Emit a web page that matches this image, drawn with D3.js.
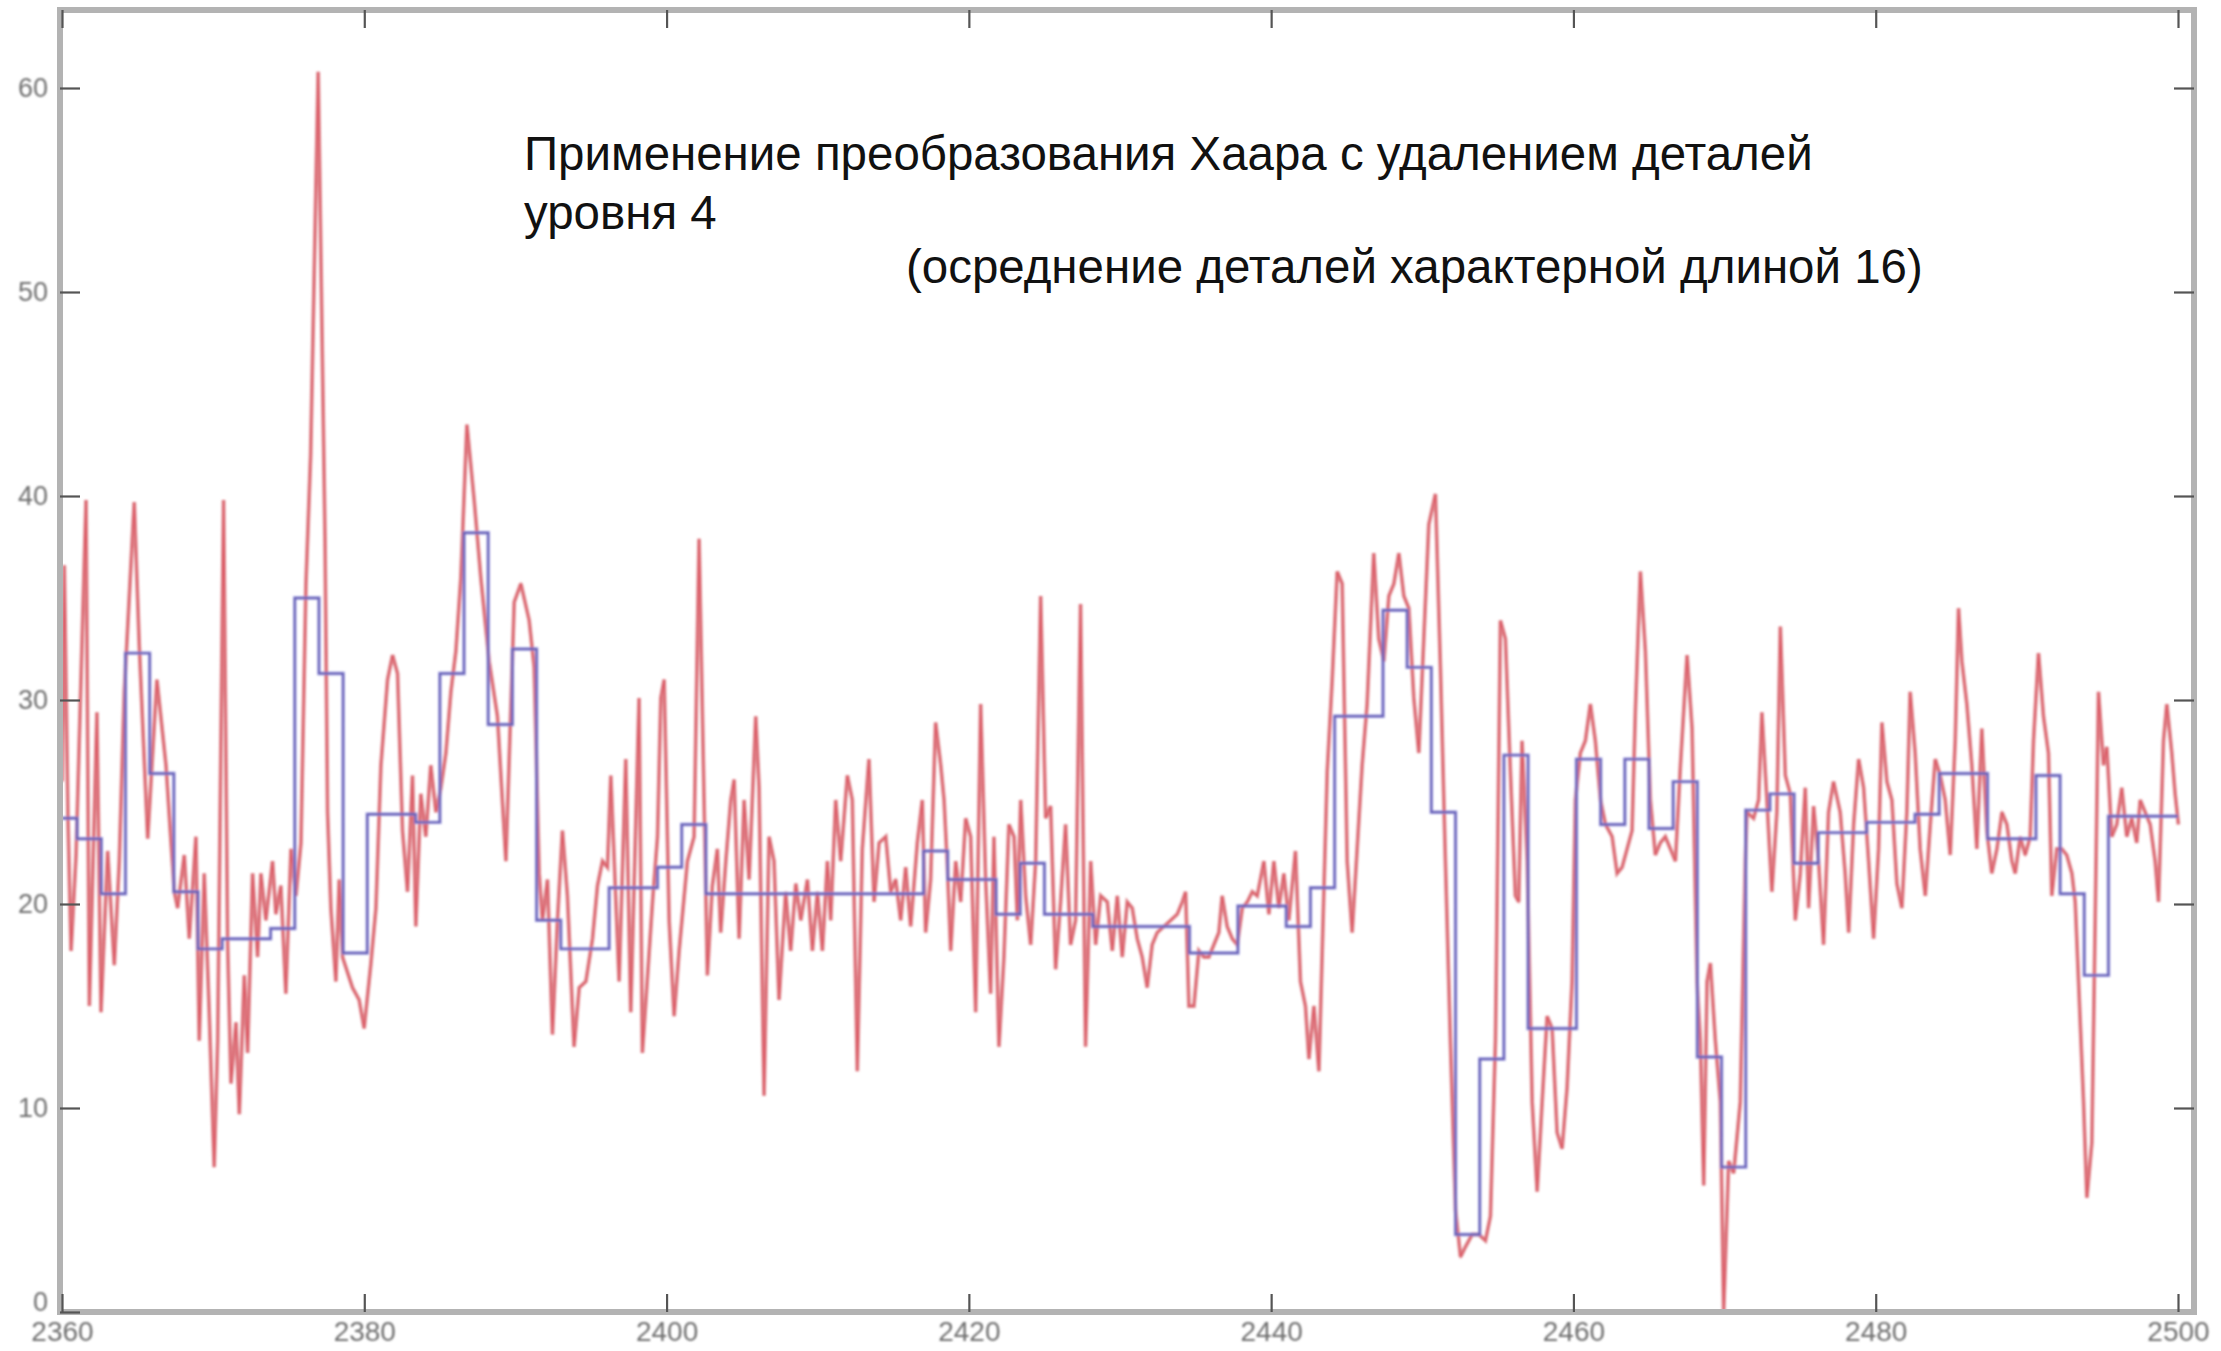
<!DOCTYPE html>
<html>
<head>
<meta charset="utf-8">
<script src="https://cdn.jsdelivr.net/npm/d3@7/dist/d3.min.js"></script>
<style>
  html, body { margin: 0; padding: 0; background: #ffffff; }
  svg { display: block; }
</style>
</head>
<body>
<svg id="chart" width="2221" height="1351"></svg>
<script>
// ---- text ----
const titleLines = [
  "Применение преобразования Хаара с удалением деталей",
  "уровня 4",
  "(осреднение деталей характерной длиной 16)"
];

// ---- axes ----
const xTicks = [2360, 2380, 2400, 2420, 2440, 2460, 2480, 2500];
const yTicks = [0, 10, 20, 30, 40, 50, 60];

// ---- raw signal (turning points: time, value) ----
const fluxT = [
  2360.00, 2360.15, 2360.40, 2360.60, 2360.93, 2361.59, 2361.81, 2362.31, 2362.58, 2363.02,
  2363.46, 2363.79, 2364.12, 2364.78, 2365.11, 2365.67, 2366.28, 2366.88, 2367.43, 2367.65,
  2368.09, 2368.42, 2368.86, 2369.08, 2369.41, 2369.74, 2370.07, 2370.30, 2370.69, 2370.96,
  2371.18, 2371.51, 2371.73, 2372.06, 2372.28, 2372.61, 2372.94, 2373.16, 2373.49, 2373.93,
  2374.15, 2374.48, 2374.81, 2375.15, 2375.48, 2375.81, 2376.14, 2376.45, 2376.95, 2377.40,
  2377.57, 2377.79, 2378.12, 2378.34, 2378.56, 2379.22, 2379.66, 2379.99, 2380.44, 2380.77,
  2381.10, 2381.54, 2381.87, 2382.20, 2382.53, 2382.86, 2383.19, 2383.41, 2383.74, 2384.07,
  2384.40, 2384.74, 2385.07, 2385.40, 2385.73, 2386.06, 2386.39, 2386.79, 2387.27, 2387.71,
  2388.26, 2388.81, 2389.37, 2389.92, 2390.36, 2390.91, 2391.24, 2391.57, 2391.79, 2392.12,
  2392.45, 2392.78, 2393.11, 2393.44, 2393.88, 2394.22, 2394.66, 2395.10, 2395.43, 2395.76,
  2396.09, 2396.31, 2396.86, 2397.30, 2397.63, 2398.18, 2398.40, 2399.07, 2399.40, 2399.62,
  2399.84, 2400.17, 2400.50, 2400.83, 2401.38, 2401.82, 2402.15, 2402.48, 2402.70, 2403.03,
  2403.36, 2403.58, 2403.92, 2404.25, 2404.47, 2404.80, 2405.13, 2405.46, 2405.90, 2406.12,
  2406.45, 2406.78, 2407.11, 2407.44, 2407.88, 2408.21, 2408.55, 2408.88, 2409.32, 2409.65,
  2409.98, 2410.31, 2410.64, 2410.86, 2411.19, 2411.52, 2411.96, 2412.29, 2412.62, 2412.95,
  2413.39, 2413.73, 2414.06, 2414.50, 2414.83, 2415.16, 2415.49, 2415.82, 2416.15, 2416.59,
  2416.92, 2417.14, 2417.47, 2417.80, 2418.14, 2418.36, 2418.58, 2418.80, 2419.13, 2419.46,
  2419.79, 2420.12, 2420.45, 2420.78, 2421.11, 2421.44, 2421.66, 2421.99, 2422.32, 2422.65,
  2422.99, 2423.21, 2423.43, 2423.76, 2424.09, 2424.42, 2424.75, 2425.08, 2425.41, 2425.74,
  2426.07, 2426.40, 2426.73, 2427.06, 2427.39, 2427.72, 2428.06, 2428.39, 2428.72, 2429.16,
  2429.49, 2429.82, 2430.15, 2430.48, 2430.81, 2431.14, 2431.47, 2431.80, 2432.13, 2432.46,
  2432.91, 2433.35, 2433.79, 2434.12, 2434.34, 2434.56, 2434.89, 2435.22, 2435.55, 2435.88,
  2436.21, 2436.54, 2436.76, 2437.09, 2437.43, 2437.76, 2438.09, 2438.42, 2438.75, 2439.08,
  2439.52, 2439.85, 2440.18, 2440.51, 2440.84, 2441.17, 2441.61, 2441.94, 2442.27, 2442.50,
  2442.83, 2443.16, 2443.38, 2443.71, 2444.04, 2444.37, 2444.70, 2445.03, 2445.36, 2445.69,
  2446.02, 2446.35, 2446.79, 2447.12, 2447.46, 2447.79, 2448.12, 2448.45, 2448.78, 2449.11,
  2449.44, 2449.77, 2450.10, 2450.43, 2450.87, 2451.20, 2451.53, 2451.86, 2452.20, 2452.53,
  2452.86, 2453.30, 2453.74, 2454.18, 2454.51, 2454.84, 2455.17, 2455.50, 2455.83, 2456.16,
  2456.38, 2456.60, 2456.94, 2457.27, 2457.60, 2457.93, 2458.26, 2458.59, 2458.92, 2459.25,
  2459.58, 2459.91, 2460.13, 2460.46, 2460.79, 2461.12, 2461.45, 2461.79, 2462.12, 2462.56,
  2462.89, 2463.22, 2463.55, 2463.88, 2464.10, 2464.43, 2464.76, 2465.09, 2465.42, 2465.75,
  2466.08, 2466.42, 2466.75, 2467.08, 2467.52, 2467.85, 2468.18, 2468.40, 2468.62, 2468.84,
  2469.06, 2469.39, 2469.72, 2469.94, 2470.27, 2470.60, 2471.04, 2471.37, 2471.48, 2471.92,
  2472.25, 2472.47, 2472.80, 2473.13, 2473.46, 2473.69, 2474.02, 2474.35, 2474.68, 2475.01,
  2475.34, 2475.56, 2475.89, 2476.22, 2476.55, 2476.88, 2477.21, 2477.65, 2477.98, 2478.21,
  2478.54, 2478.87, 2479.20, 2479.53, 2479.86, 2480.19, 2480.41, 2480.74, 2481.07, 2481.40,
  2481.73, 2482.06, 2482.28, 2482.61, 2482.94, 2483.28, 2483.61, 2483.94, 2484.27, 2484.60,
  2484.93, 2485.26, 2485.48, 2485.70, 2486.03, 2486.36, 2486.69, 2487.02, 2487.35, 2487.68,
  2488.02, 2488.35, 2488.68, 2489.01, 2489.23, 2489.56, 2489.89, 2490.22, 2490.44, 2490.77,
  2491.10, 2491.43, 2491.65, 2491.98, 2492.31, 2492.64, 2492.98, 2493.20, 2493.42, 2493.75,
  2493.97, 2494.30, 2494.52, 2494.74, 2495.07, 2495.29, 2495.62, 2495.95, 2496.28, 2496.61,
  2496.94, 2497.27, 2497.50, 2497.83, 2498.16, 2498.49, 2498.71, 2499.04, 2499.26, 2499.59,
  2499.81, 2500.03
];
const fluxV = [
  26.0, 36.6, 24.0, 17.7, 22.4, 39.8, 15.0, 29.4, 14.7, 22.6,
  17.0, 22.1, 30.4, 39.7, 32.7, 23.2, 31.0, 26.8, 20.6, 19.8,
  22.4, 18.3, 23.3, 13.3, 21.5, 14.7, 7.1, 13.3, 39.8, 18.0,
  11.2, 14.2, 9.7, 16.5, 12.7, 21.5, 17.4, 21.5, 19.2, 22.1,
  19.5, 20.9, 15.6, 22.7, 20.4, 23.0, 35.7, 42.0, 60.8, 38.0,
  24.5, 19.8, 16.2, 21.2, 17.4, 15.9, 15.3, 13.9, 17.1, 19.8,
  26.8, 31.0, 32.2, 31.3, 23.6, 20.6, 26.3, 18.9, 25.4, 23.3,
  26.8, 24.5, 25.7, 27.4, 30.4, 32.4, 36.0, 43.5, 39.8, 36.0,
  31.9, 29.2, 22.1, 34.8, 35.7, 33.9, 31.6, 21.5, 19.2, 21.2,
  13.6, 19.2, 23.6, 20.4, 13.0, 15.9, 16.2, 18.3, 20.9, 22.1,
  21.8, 26.3, 16.2, 27.1, 14.7, 30.1, 12.7, 20.1, 23.3, 30.1,
  31.0, 19.2, 14.5, 17.7, 22.1, 23.3, 37.9, 25.1, 16.5, 20.9,
  22.7, 18.6, 22.1, 25.1, 26.1, 18.3, 25.1, 21.2, 29.2, 25.7,
  10.6, 23.3, 22.1, 15.3, 20.6, 17.7, 21.0, 19.2, 21.2, 17.7,
  20.6, 17.7, 22.1, 19.2, 25.1, 22.1, 26.3, 25.1, 11.8, 22.7,
  27.1, 20.1, 23.0, 23.3, 20.6, 21.2, 19.2, 21.8, 18.9, 23.0,
  25.1, 18.6, 21.2, 28.9, 26.8, 25.1, 21.8, 17.7, 22.1, 20.1,
  24.2, 23.3, 14.7, 29.8, 21.2, 15.6, 23.3, 13.0, 17.4, 23.9,
  23.3, 19.2, 25.1, 20.4, 18.0, 22.1, 35.1, 24.2, 24.8, 16.8,
  20.1, 23.9, 18.0, 19.2, 34.7, 13.0, 22.1, 18.0, 20.4, 20.1,
  17.7, 20.4, 17.4, 20.1, 19.8, 18.3, 17.4, 15.9, 18.0, 18.6,
  18.9, 19.2, 19.5, 20.1, 20.6, 15.0, 15.0, 17.7, 17.4, 17.4,
  18.0, 18.6, 20.4, 18.9, 18.3, 18.0, 19.8, 20.1, 20.6, 20.4,
  22.1, 19.5, 22.1, 19.8, 21.5, 19.2, 22.6, 16.2, 15.0, 12.4,
  15.0, 11.8, 17.7, 26.5, 31.0, 36.3, 35.7, 22.1, 18.6, 22.7,
  26.8, 29.8, 37.2, 33.0, 31.9, 35.1, 35.7, 37.2, 35.1, 34.5,
  30.1, 27.4, 33.0, 38.6, 40.1, 31.6, 22.1, 13.3, 5.0, 2.7,
  3.2, 3.8, 3.8, 3.5, 4.7, 13.3, 33.9, 33.0, 26.5, 20.4,
  20.1, 28.0, 22.1, 10.3, 5.9, 10.3, 14.5, 13.9, 8.8, 8.0,
  11.0, 16.2, 25.1, 27.4, 28.0, 29.8, 28.0, 25.1, 23.9, 23.3,
  21.5, 21.8, 22.7, 23.6, 29.5, 36.3, 32.4, 25.1, 22.4, 23.0,
  23.3, 22.7, 22.1, 26.8, 32.2, 28.6, 16.2, 13.3, 6.2, 16.2,
  17.1, 13.3, 10.3, 0.0, 7.4, 6.8, 10.3, 22.1, 24.5, 24.2,
  25.1, 29.4, 25.1, 20.6, 24.5, 33.6, 26.3, 25.4, 19.2, 21.5,
  25.7, 19.8, 24.8, 22.1, 18.0, 24.5, 26.0, 24.5, 21.5, 18.6,
  23.9, 27.1, 25.7, 22.1, 18.3, 22.7, 28.9, 26.0, 25.1, 21.0,
  19.8, 24.5, 30.4, 27.4, 22.7, 20.4, 23.9, 27.1, 26.3, 25.1,
  22.4, 28.0, 34.5, 31.9, 29.8, 26.8, 22.7, 28.6, 23.6, 21.5,
  22.7, 24.5, 23.9, 22.1, 21.5, 23.3, 22.4, 23.3, 28.0, 32.3,
  29.2, 27.4, 20.4, 22.7, 22.7, 22.4, 21.5, 20.1, 16.2, 10.3,
  5.6, 8.3, 19.2, 30.4, 26.8, 27.7, 23.3, 23.9, 25.7, 23.3,
  24.2, 23.0, 25.1, 24.5, 23.9, 22.1, 20.1, 28.0, 29.8, 27.4,
  25.4, 23.9
];

// ---- level-4 Haar approximation: left edge of each 16-sample block and its mean ----
const blockStart = [
  2360.0, 2361.0, 2362.6, 2364.2, 2365.8, 2367.4, 2369.0, 2370.6, 2372.2, 2373.8,
  2375.4, 2377.0, 2378.6, 2380.2, 2381.8, 2383.4, 2385.0, 2386.6, 2388.2, 2389.8,
  2391.4, 2393.0, 2394.6, 2396.2, 2397.8, 2399.4, 2401.0, 2402.6, 2404.2, 2405.8,
  2407.4, 2409.0, 2410.6, 2412.2, 2413.8, 2415.4, 2417.0, 2418.6, 2420.2, 2421.8,
  2423.4, 2425.0, 2426.6, 2428.2, 2429.8, 2431.4, 2433.0, 2434.6, 2436.2, 2437.8,
  2439.4, 2441.0, 2442.6, 2444.2, 2445.8, 2447.4, 2449.0, 2450.6, 2452.2, 2453.8,
  2455.4, 2457.0, 2458.6, 2460.2, 2461.8, 2463.4, 2465.0, 2466.6, 2468.2, 2469.8,
  2471.4, 2473.0, 2474.6, 2476.2, 2477.8, 2479.4, 2481.0, 2482.6, 2484.2, 2485.8,
  2487.4, 2489.0, 2490.6, 2492.2, 2493.8, 2495.4, 2497.0, 2498.6
];
const blockMean = [
  24.2, 23.2, 20.5, 32.3, 26.4, 20.6, 17.8, 18.3, 18.3, 18.8,
  35.0, 31.3, 17.6, 24.4, 24.4, 24.0, 31.3, 38.2, 28.8, 32.5,
  19.2, 17.8, 17.8, 20.8, 20.8, 21.8, 23.9, 20.5, 20.5, 20.5,
  20.5, 20.5, 20.5, 20.5, 20.5, 20.5, 22.6, 21.2, 21.2, 19.5,
  22.0, 19.5, 19.5, 18.9, 18.9, 18.9, 18.9, 17.6, 17.6, 19.9,
  19.9, 18.9, 20.8, 29.2, 29.2, 34.4, 31.6, 24.5, 3.8, 12.4,
  27.3, 13.9, 13.9, 27.1, 23.9, 27.1, 23.7, 26.0, 12.5, 7.1,
  24.6, 25.4, 22.0, 23.5, 23.5, 24.0, 24.0, 24.4, 26.4, 26.4,
  23.2, 23.2, 26.3, 20.5, 16.5, 24.3, 24.3, 24.3
];
const blockEnd = 2500.0;

// ---- layout ----
const frame = { left: 60, right: 2194, top: 10, bottom: 1312 };

const svg = d3.select("#chart");

const defs = svg.append("defs");
defs.append("filter").attr("id", "soft")
  .attr("x", "-5%").attr("y", "-5%").attr("width", "110%").attr("height", "110%")
  .append("feGaussianBlur").attr("stdDeviation", 0.8);
defs.append("filter").attr("id", "softText")
  .append("feGaussianBlur").attr("stdDeviation", 0.8);

const x = d3.scaleLinear().domain([2360, 2500]).range([62, 2178]);
const y = d3.scaleLinear().domain([0, 60]).range([1312, 88]);

// plot area clip
defs.append("clipPath").attr("id", "plotClip")
  .append("rect")
  .attr("x", frame.left).attr("y", frame.top)
  .attr("width", frame.right - frame.left)
  .attr("height", frame.bottom - frame.top);

// ---- series ----
const signal = fluxT.map((t, i) => [t, fluxV[i]]);
const approx = blockStart.map((t, i) => [t, blockMean[i]]);
approx.push([blockEnd, blockMean[blockMean.length - 1]]);

const lineSignal = d3.line().x(d => x(d[0])).y(d => y(d[1]));
const lineApprox = d3.line().x(d => x(d[0])).y(d => y(d[1])).curve(d3.curveStepAfter);

const plot = svg.append("g").attr("clip-path", "url(#plotClip)");
const soft = plot.append("g").attr("filter", "url(#soft)");

soft.append("path").datum(signal)
  .attr("d", lineSignal)
  .attr("fill", "none")
  .attr("stroke", "#df8a90")
  .attr("stroke-width", 3.8)
  .attr("stroke-linejoin", "miter")
  .attr("stroke-miterlimit", 3);
soft.append("path").datum(signal)
  .attr("d", lineSignal)
  .attr("fill", "none")
  .attr("stroke", "#d8283a")
  .attr("stroke-opacity", 0.55)
  .attr("stroke-width", 1.4);

soft.append("path").datum(approx)
  .attr("d", lineApprox)
  .attr("fill", "none")
  .attr("stroke", "#8c8ad8")
  .attr("stroke-opacity", 0.9)
  .attr("stroke-width", 3.4);
soft.append("path").datum(approx)
  .attr("d", lineApprox)
  .attr("fill", "none")
  .attr("stroke", "#3e3396")
  .attr("stroke-opacity", 0.7)
  .attr("stroke-width", 1.4);

// ---- frame ----
svg.append("rect")
  .attr("x", frame.left).attr("y", frame.top)
  .attr("width", frame.right - frame.left)
  .attr("height", frame.bottom - frame.top)
  .attr("fill", "none")
  .attr("stroke", "#b3b3b3")
  .attr("stroke-width", 6);

// ---- axes (ticks point inward) ----
const tickColor = "#555";
function styleAxis(size) {
  return g => {
    g.select(".domain").remove();
    g.selectAll(".tick line").attr("stroke", tickColor).attr("stroke-width", 2.2);
    g.selectAll(".tick text")
      .attr("fill", "#707070")
      .attr("font-family", "'Liberation Sans', Arial, sans-serif")
      .attr("font-size", size)
      .attr("filter", "url(#softText)");
  };
}

const yAxisG = svg.append("g")
  .attr("transform", `translate(${frame.left},0)`)
  .call(d3.axisLeft(y).tickValues(yTicks).tickSize(-20).tickPadding(12).tickFormat(d3.format("d")))
  .call(styleAxis(27));
// the zero label sits a little higher so it clears the year labels below
yAxisG.selectAll(".tick text").filter(d => d === 0).attr("dy", "-0.05em");

svg.append("g")
  .attr("transform", `translate(${frame.right},0)`)
  .call(d3.axisRight(y).tickValues(yTicks.filter(v => v > 0)).tickSize(-20).tickFormat(""))
  .call(styleAxis(27));

svg.append("g")
  .attr("transform", `translate(0,${frame.bottom})`)
  .call(d3.axisBottom(x).tickValues(xTicks).tickSize(-18).tickPadding(9).tickFormat(d3.format("d")))
  .call(styleAxis(28));

svg.append("g")
  .attr("transform", `translate(0,${frame.top})`)
  .call(d3.axisTop(x).tickValues(xTicks).tickSize(-18).tickFormat(""))
  .call(styleAxis(28));

// ---- title block ----
const titleFont = "'Liberation Sans', Arial, Helvetica, sans-serif";
const titlePos = [[524, 170], [524, 229], [906, 283]];
const titleG = svg.append("g");
const t0 = titleG.append("text")
  .attr("font-family", titleFont).attr("font-size", 46)
  .text(titleLines[0]);
const fs = 46 * 1289 / t0.node().getComputedTextLength();
t0.remove();
titleLines.forEach((s, i) => {
  titleG.append("text")
    .attr("x", titlePos[i][0]).attr("y", titlePos[i][1])
    .attr("font-family", titleFont)
    .attr("font-size", fs)
    .attr("fill", "#111")
    .text(s);
});
</script>
</body>
</html>
